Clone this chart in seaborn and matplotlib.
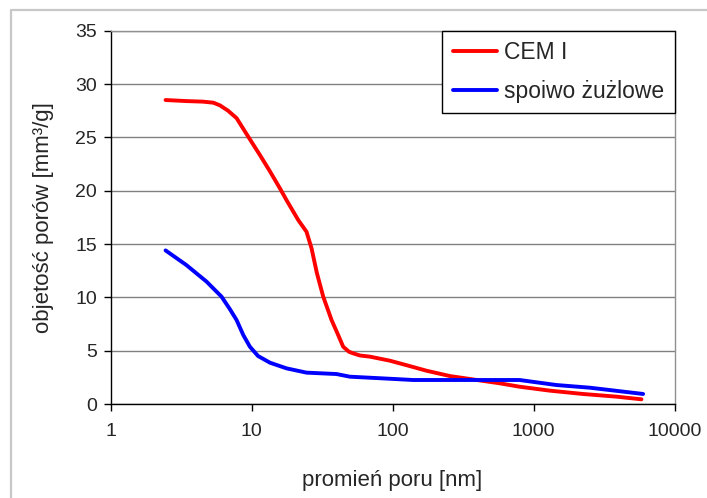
import matplotlib
matplotlib.use("Agg")
import matplotlib.pyplot as plt
from matplotlib.lines import Line2D
import seaborn as sns
import pandas as pd

# --- data ---
cem_x = [2.45, 3.46, 4.5, 5.35, 5.96, 6.8, 7.82, 9.46, 11.5, 13.5, 15.9, 17.7, 21.4, 24.5, 26.6,
         29.0, 32.2, 36.9, 41.0, 44.6, 49.0, 52.5, 58.6, 69, 95.7, 132, 174, 255, 396, 576, 796,
         1308, 2240, 3870, 5830]
cem_y = [28.5, 28.4, 28.35, 28.25, 28.0, 27.5, 26.8, 25.06, 23.3, 21.8, 20.2, 19.1, 17.25, 16.15, 14.6,
         12.3, 10.06, 7.87, 6.5, 5.37, 4.9, 4.75, 4.55, 4.44, 4.06, 3.56, 3.12, 2.62, 2.25, 1.94, 1.62,
         1.25, 0.94, 0.69, 0.44]

zuz_x = [2.45, 3.44, 4.79, 6.12, 7.0, 7.82, 8.72, 9.72, 11.1, 13.5, 17.7, 24.5, 40, 49.8, 85.7,
         140, 255, 796, 1450, 2500, 5990]
zuz_y = [14.4, 13.03, 11.47, 10.06, 8.9, 7.87, 6.47, 5.37, 4.5, 3.87, 3.34, 2.94, 2.81, 2.56, 2.4,
         2.25, 2.25, 2.25, 1.78, 1.53, 0.94]

series_names = ["CEM I", "spoiwo żużlowe"]
series_colors = ["#FF0000", "#0000FF"]
y_ticks = [0, 5, 10, 15, 20, 25, 30, 35]
x_ticks = [1, 10, 100, 1000, 10000]
x_ticklabels = ["1", "10", "100", "1000", "10000"]
x_label = "promień poru [nm]"
y_label = "objetość porów [mm³/g]"

df = pd.concat([
    pd.DataFrame({"x": cem_x, "y": cem_y, "seria": series_names[0], "order": range(len(cem_x))}),
    pd.DataFrame({"x": zuz_x, "y": zuz_y, "seria": series_names[1], "order": range(len(zuz_x))}),
], ignore_index=True)

sns.set_style("white")
plt.rcParams["font.family"] = ["Liberation Sans", "DejaVu Sans"]

fig = plt.figure(figsize=(7.07, 4.98), dpi=100)
ax = fig.add_axes([110.7 / 707, 1 - 404 / 498, (674.5 - 110.7) / 707, (404 - 30.7) / 498])

sns.lineplot(data=df, x="x", y="y", hue="seria", palette=series_colors, hue_order=series_names,
             sort=False, estimator=None, linewidth=2.8, ax=ax, legend=False)

ax.set_xscale("log")
ax.set_xlim(1, 10000)
ax.set_ylim(0, 35)
ax.set_xticks(x_ticks)
ax.set_xticklabels(x_ticklabels)
ax.xaxis.set_minor_locator(matplotlib.ticker.NullLocator())
ax.set_yticks(y_ticks)
ax.tick_params(axis="both", which="major", labelsize=14, length=5, width=1, color="black",
               direction="out", bottom=True, left=True)
ax.tick_params(axis="y", pad=5)
ax.tick_params(axis="x", pad=9)

ax.yaxis.grid(True, color="#808080", linewidth=1)
ax.xaxis.grid(False)
ax.set_axisbelow(True)

for side in ["left", "bottom"]:
    ax.spines[side].set_color("black")
    ax.spines[side].set_linewidth(1)
for side in ["right", "top"]:
    ax.spines[side].set_color("#909090")
    ax.spines[side].set_linewidth(1)

ax.set_xlabel(x_label, fontsize=16, labelpad=21)
ax.set_ylabel(y_label, fontsize=16, labelpad=15)

handles = [Line2D([0], [0], color=c, lw=2.8) for c in series_colors]
leg = ax.legend(handles, series_names, loc="upper right", bbox_to_anchor=(1, 1), borderaxespad=0,
                fontsize=16.5, frameon=True, fancybox=False, framealpha=1, edgecolor="black",
                handlelength=1.95, handletextpad=0.3, labelspacing=0.7, borderpad=0.45)
leg.get_frame().set_linewidth(1)

# outer chart-area border (only top and left edges visible in the reference)
x0 = 10.5 / 707
y0 = 1 - 10.5 / 498
fig.add_artist(Line2D([x0, x0], [0, y0], transform=fig.transFigure, color="#c8c8c8", lw=1.6))
fig.add_artist(Line2D([x0, 1], [y0, y0], transform=fig.transFigure, color="#c8c8c8", lw=1.6))

fig.savefig("out.png", dpi=100)
